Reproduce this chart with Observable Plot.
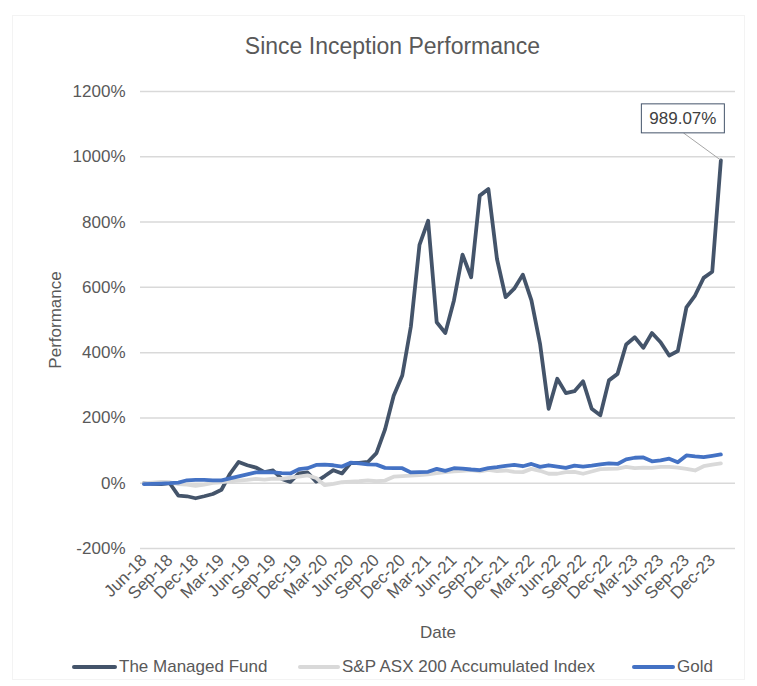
<!DOCTYPE html>
<html><head><meta charset="utf-8">
<script src="https://cdn.jsdelivr.net/npm/d3@7"></script>
<script src="https://cdn.jsdelivr.net/npm/@observablehq/plot@0.6"></script>
<style>
body{margin:0;background:#fff;font-family:"Liberation Sans",Arial,sans-serif;}
#wrap{position:relative;width:757px;height:686px;overflow:hidden;background:#fff;}
#frame{position:absolute;left:12px;top:15px;width:733px;height:665px;border:1px solid #f3f3f3;box-sizing:border-box;}
#chart{position:absolute;left:0;top:0;}
#title{position:absolute;left:0;width:785px;top:33px;text-align:center;font-size:23px;color:#595959;}
.leg{position:absolute;top:657px;font-size:17px;color:#595959;line-height:20px;white-space:nowrap;}
.sw{position:absolute;top:665px;height:4px;}
</style></head>
<body><div id="wrap"><div id="frame"></div><div id="chart"></div>
<div id="title">Since Inception Performance</div>
</div>
<script>
const months = ["Jun-18","Jul-18","Aug-18","Sep-18","Oct-18","Nov-18","Dec-18","Jan-19","Feb-19","Mar-19","Apr-19","May-19",
"Jun-19","Jul-19","Aug-19","Sep-19","Oct-19","Nov-19","Dec-19","Jan-20","Feb-20","Mar-20","Apr-20","May-20",
"Jun-20","Jul-20","Aug-20","Sep-20","Oct-20","Nov-20","Dec-20","Jan-21","Feb-21","Mar-21","Apr-21","May-21",
"Jun-21","Jul-21","Aug-21","Sep-21","Oct-21","Nov-21","Dec-21","Jan-22","Feb-22","Mar-22","Apr-22","May-22",
"Jun-22","Jul-22","Aug-22","Sep-22","Oct-22","Nov-22","Dec-22","Jan-23","Feb-23","Mar-23","Apr-23","May-23",
"Jun-23","Jul-23","Aug-23","Sep-23","Oct-23","Nov-23","Dec-23","Jan-24"];
const xTickLabels = ["Jun-18","Sep-18","Dec-18","Mar-19","Jun-19","Sep-19","Dec-19","Mar-20","Jun-20","Sep-20","Dec-20","Mar-21",
"Jun-21","Sep-21","Dec-21","Mar-22","Jun-22","Sep-22","Dec-22","Mar-23","Jun-23","Sep-23","Dec-23"];
const yTicks = [-200,0,200,400,600,800,1000,1200];
const seriesNames = ["The Managed Fund","S&P ASX 200 Accumulated Index","Gold"];
const seriesColors = ["#44546a","#d9d9d9","#4472c4"];
const fund = [0,-2,-3,0,-38,-40,-46,-40,-33,-20, 29,65,55,48,34,39,13,4,30,33, 5,22,40,30,62,62,65,92,165,268,
330,480,730,804,493,460,560,700,631,881, 901,687,570,596,639,560,427,228,320,276, 282,312,228,208,315,335,425,447,415,460,
432,391,405,539,575,629,648,989.07];
const asx = [0,2,4,3,-3,-4,-8,-4,1,3, 6,8,10,13,11,14,13,17,20,24, 16,-6,-2,3,5,6,9,6,8,20,
22,23,25,27,31,34,36,38,40,36, 41,37,39,35,34,44,38,29,29,34, 35,29,36,43,44,45,50,46,48,47,
50,50,48,44,39,52,57,61];
const gold = [-3,-2,-1,0,2,9,10,10,9,9, 15,21,27,33,34,33,31,30,43,46, 56,57,55,51,63,61,58,57,47,46,
46,33,34,35,44,38,46,45,42,40, 46,49,53,56,52,59,50,55,51,47, 54,51,54,58,61,59,73,78,79,67,
70,75,64,85,82,80,84,88];
const annotationText = "989.07%";

const idx = months.map((m,i)=>i);
const tickIdx = xTickLabels.map(l => months.indexOf(l));
const last = fund.length - 1;

function annotation(index, scales) {
  const px = scales.x(last), py = scales.y(fund[last]);
  const g = d3.create("svg:g");
  g.append("line").attr("x1",px).attr("y1",py).attr("x2",px-37).attr("y2",py-27)
    .attr("stroke","#a6a6a6").attr("stroke-width",1);
  g.append("rect").attr("x",px-79).attr("y",py-56).attr("width",83).attr("height",29)
    .attr("fill","#fff").attr("stroke","#44546a").attr("stroke-width",1);
  g.append("text").attr("x",px-37.5).attr("y",py-41.5).attr("text-anchor","middle")
    .attr("dominant-baseline","central").attr("fill","#404040").attr("font-size",17).text(annotationText);
  return g.node();
}

const chart = Plot.plot({
  width: 757, height: 686,
  marginTop: 91, marginBottom: 138, marginLeft: 140, marginRight: 22,
  style: {fontFamily: '"Liberation Sans", Arial, sans-serif', fontSize: "17px", color: "#595959", background: "transparent"},
  x: {type: "linear", domain: [-0.4, 68.7]},
  y: {domain: [-200, 1200]},
  marks: [
    Plot.gridY(yTicks, {stroke: "#d9d9d9", strokeOpacity: 1, strokeWidth: 1.5}),
    Plot.axisY(yTicks, {tickFormat: d => d + "%", tickSize: 0, tickPadding: 15, fill: "#595959",
      label: "Performance", labelAnchor: "center", labelOffset: 92, labelArrow: "none"}),
    Plot.axisX(tickIdx, {tickFormat: i => months[i], tickRotate: -45, tickSize: 0, tickPadding: 9, fill: "#595959",
      label: "Date", labelAnchor: "center", labelOffset: 89, labelArrow: "none"}),
    Plot.lineY(fund, {x: (d,i) => idx[i], y: d => d, stroke: seriesColors[0], strokeWidth: 3.8, strokeLinejoin: "round"}),
    Plot.lineY(asx, {x: (d,i) => idx[i], y: d => d, stroke: seriesColors[1], strokeWidth: 3.8, strokeLinejoin: "round"}),
    Plot.lineY(gold, {x: (d,i) => idx[i], y: d => d, stroke: seriesColors[2], strokeWidth: 3.8, strokeLinejoin: "round"}),
    annotation
  ]
});
document.getElementById("chart").appendChild(chart);

// legend
const wrap = document.getElementById("wrap");
const legPos = [{sw: 72, tx: 119}, {sw: 298, tx: 342}, {sw: 632, tx: 677}];
seriesNames.forEach((name, k) => {
  const s = document.createElement("div");
  s.className = "sw"; s.style.left = legPos[k].sw + "px"; s.style.width = (legPos[k].tx - legPos[k].sw - 2) + "px";
  s.style.background = seriesColors[k]; s.style.borderRadius = "2px";
  wrap.appendChild(s);
  const t = document.createElement("div");
  t.className = "leg"; t.style.left = legPos[k].tx + "px"; t.textContent = name;
  wrap.appendChild(t);
});
</script></body></html>
